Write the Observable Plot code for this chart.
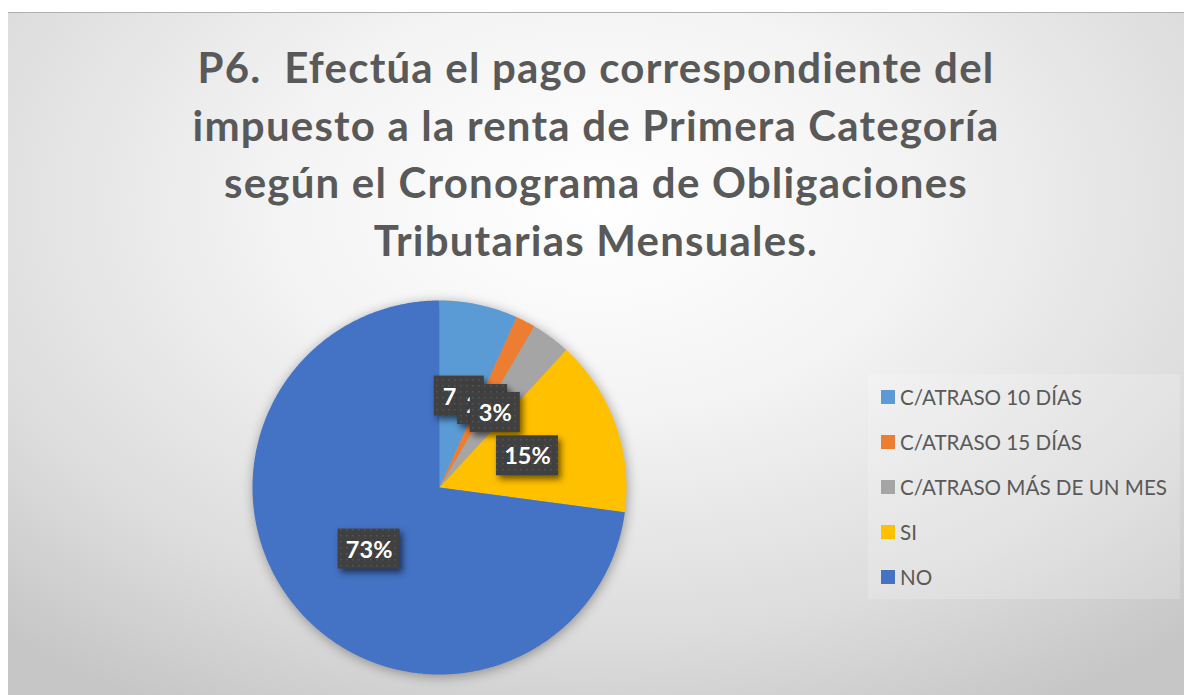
<!DOCTYPE html>
<html><head><meta charset="utf-8">
<script src="https://cdn.jsdelivr.net/npm/d3@7"></script>
<script src="https://cdn.jsdelivr.net/npm/@observablehq/plot@0.6"></script>
<style>
body{margin:0;background:#fff;width:1184px;height:695px;overflow:hidden;font-family:Lato,"Open Sans",sans-serif;}
#frame{position:absolute;left:8px;top:12px;width:1176px;height:683px;
 background:radial-gradient(ellipse 75% 85% at 50% 28%, #ffffff 0%, #f4f4f4 35%, #dcdcdc 75%, #c6c6c6 100%);
 border-top:1px solid #b0b0b0;box-sizing:border-box;overflow:hidden;}
#title{position:absolute;left:0;width:1176px;top:26px;text-align:center;font-weight:700;font-size:42px;letter-spacing:1.2px;line-height:57.5px;color:#595959;white-space:nowrap;}
#chart{position:absolute;left:0;top:280px;}
#legend{position:absolute;left:860px;top:361px;width:312px;height:225px;background:rgba(255,255,255,0.18);}
.item{position:absolute;left:13px;height:24px;display:flex;align-items:center;font-size:20.6px;color:#595959;white-space:nowrap;}
.sw{width:14px;height:14px;margin-right:5px;flex:none;}
</style></head>
<body>
<div id="frame">
  <div id="title">P6.&nbsp; Efectúa el pago correspondiente del<br>impuesto a la renta de Primera Categoría<br>según el Cronograma de Obligaciones<br>Tributarias Mensuales.</div>
  <div id="chart"></div>
  <div id="legend"></div>
</div>
<script>
const categories = ["C/ATRASO 10 DÍAS", "C/ATRASO 15 DÍAS", "C/ATRASO MÁS DE UN MES", "SI", "NO"];
const counts = [4, 1, 2, 9, 43];
const labels = ["7%", "2%", "3%", "15%", "73%"];
const colors = ["#5B9BD5", "#ED7D31", "#A5A5A5", "#FFC000", "#4472C4"];

const W = 1176, H = 395, R = 187, CX = 431, CY = 194;
const total = d3.sum(counts);

// slice polygons in unit-circle data space (start at 12 o'clock, clockwise)
const slices = [];
const labelPos = [];
let acc = 0;
categories.forEach((cat, i) => {
  const a0 = acc / total * 2 * Math.PI;
  acc += counts[i];
  const a1 = acc / total * 2 * Math.PI;
  slices.push({cat, x: 0, y: 0});
  const n = Math.max(2, Math.ceil((a1 - a0) / (Math.PI / 360)));
  for (let k = 0; k <= n; k++) {
    const a = a0 + (a1 - a0) * k / n;
    slices.push({cat, x: Math.sin(a), y: Math.cos(a)});
  }
  slices.push({cat, x: 0, y: 0});
  const am = (a0 + a1) / 2;
  labelPos.push({cat, label: labels[i], x: 0.5 * Math.sin(am), y: 0.5 * Math.cos(am)});
});

const labelMarks = labelPos.flatMap(d => {
  const w = (d.label.length > 2 ? 62 : 50) / R / 2;
  const h = 40 / R / 2;
  return [
    Plot.rect([d], {x1: p => p.x - w, x2: p => p.x + w, y1: p => p.y - h, y2: p => p.y + h, fill: "url(#dots)"}),
    Plot.text([d], {x: "x", y: "y", text: "label", fill: "white", fontSize: 23.5, fontWeight: "bold", fontFamily: "Lato, 'Open Sans', sans-serif", dy: 1})
  ];
});

const plot = Plot.plot({
  width: W, height: H,
  margin: 0,
  x: {domain: [-CX / R, (W - CX) / R], axis: null},
  y: {domain: [-(H - CY) / R, CY / R], axis: null},
  color: {domain: categories, range: colors},
  marks: [
    Plot.line(slices, {x: "x", y: "y", z: "cat", fill: "cat", stroke: null, strokeWidth: 0}),
    ...labelMarks
  ]
});
plot.style.background = "transparent";
plot.style.overflow = "visible";

const svg = d3.select(plot);
const defs = svg.insert("defs", ":first-child");
const pat = defs.append("pattern").attr("id", "dots").attr("width", 6).attr("height", 6).attr("patternUnits", "userSpaceOnUse");
pat.append("rect").attr("width", 6).attr("height", 6).attr("fill", "#404040");
pat.append("rect").attr("x", 2).attr("y", 2).attr("width", 1.5).attr("height", 1.5).attr("fill", "#555555");
svg.selectAll('g[aria-label="line"]').style("filter", "drop-shadow(1px 2px 6px rgba(0,0,0,0.35))");
svg.selectAll('g[aria-label="rect"]').style("filter", "drop-shadow(3px 4px 3px rgba(0,0,0,0.55))");

document.getElementById("chart").appendChild(plot);

const legend = document.getElementById("legend");
categories.forEach((cat, i) => {
  const it = document.createElement("div");
  it.className = "item";
  it.style.top = (23 - 12 + i * 45) + "px";
  const sw = document.createElement("span");
  sw.className = "sw";
  sw.style.background = colors[i];
  const tx = document.createElement("span");
  tx.textContent = cat;
  it.appendChild(sw); it.appendChild(tx);
  legend.appendChild(it);
});
</script>
</body></html>
